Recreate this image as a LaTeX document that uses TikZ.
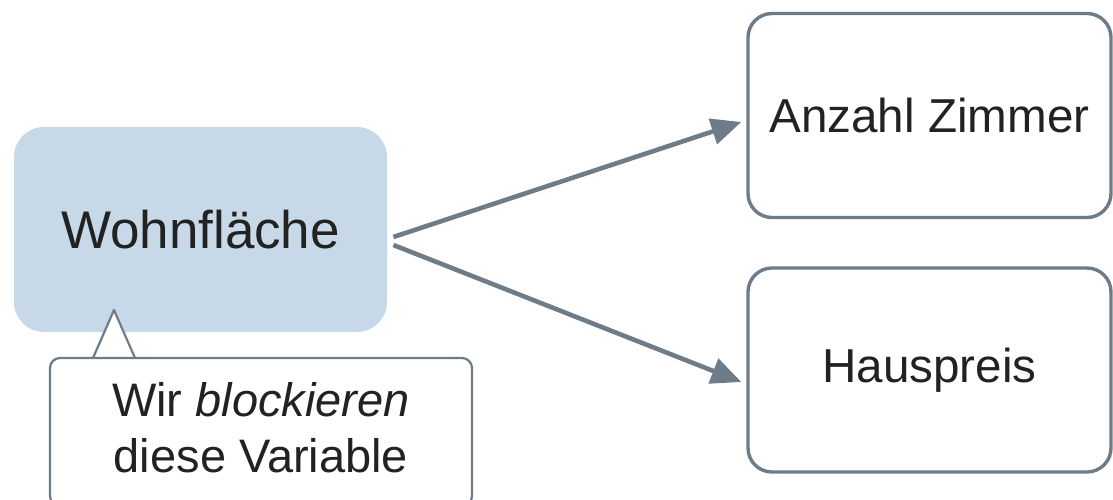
\documentclass[tikz,border=0pt]{standalone}
\usepackage{fontspec}
\setmainfont{Liberation Sans}
\usepackage{xcolor}
\usetikzlibrary{arrows.meta,calc,positioning}
\definecolor{slate}{HTML}{6E7B88}
\definecolor{paleblue}{HTML}{C7D9E8}
\definecolor{ink}{HTML}{222222}

\begin{document}
\begin{tikzpicture}[x=0.5pt,y=-0.5pt,>={Triangle[length=15pt,width=13pt]},
  varbox/.style={rectangle,rounded corners=12pt,draw=slate,line width=1.7pt,fill=white,
    minimum width=181.5pt,minimum height=102pt,inner sep=0pt,text=ink,font=\fontsize{23.8}{28}\selectfont},
  arr/.style={->,draw=slate,line width=2.3pt}]
\useasboundingbox (0,0) rectangle (1113,499);
\node[rectangle,rounded corners=15pt,fill=paleblue,minimum width=186.5pt,minimum height=102.5pt,
  inner sep=0pt,text=ink,font=\fontsize{26.5}{30}\selectfont] (wohn) at (200.5,229.5) {Wohnfläche};
\node[varbox] (anz) at (929.5,115.5) {Anzahl Zimmer};
\node[varbox,minimum height=102pt] (hau) at (929.5,370) {Hauspreis};
\draw[arr] ($(wohn.east)+(6,7.5)$) -- ($(anz.west)+(-5,6.5)$);
\draw[arr] ($(wohn.east)+(6,15.5)$) -- ($(hau.west)+(-5,12)$);
\begin{scope}
\clip (0,0) rectangle (1113,499);
\draw[slate,line width=1.1pt,fill=white,rounded corners=5pt] (50,358) rectangle (472,506);
\fill[white] (92,356) -- (114,310) -- (136,356) -- cycle;
\draw[slate,line width=1.1pt,line join=round] (93,358) -- (114,310) -- (135,358);
\end{scope}
\node[align=center,text=ink,inner sep=0pt,font=\fontsize{23.5}{28}\selectfont] (note) at (261,428)
  {Wir \textit{blockieren}\\diese Variable};
\end{tikzpicture}
\end{document}
